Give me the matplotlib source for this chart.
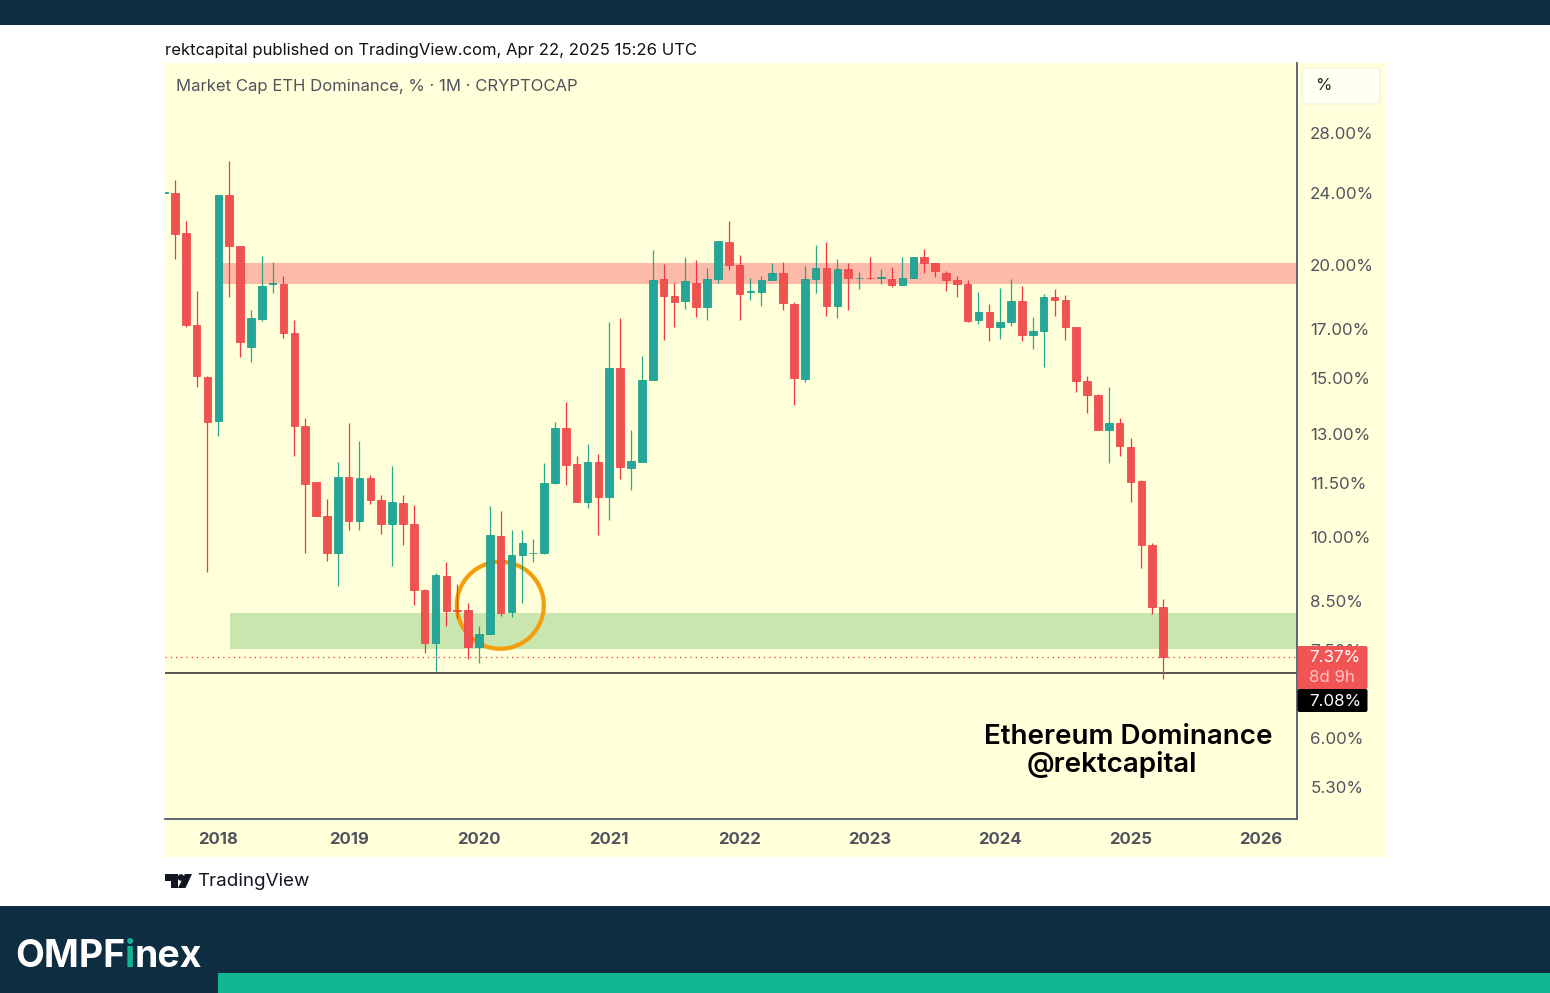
import numpy as np
import pandas as pd
import matplotlib
matplotlib.use("Agg")
import matplotlib.pyplot as plt
from matplotlib.patches import Rectangle, Circle, Polygon, FancyBboxPatch
from matplotlib.transforms import Affine2D

months = pd.period_range("2017-08", "2025-04", freq="M")
opens = [24.05,24.03,21.69,17.16,15.06,13.44,23.9,21.0,16.23,17.43,19.06,19.06,16.84,13.29,11.51,10.57,9.62,
         11.67,10.42,11.63,11.0,10.35,10.91,10.34,8.74,7.64,9.06,8.31,8.31,7.57,7.82,10.04,8.28,9.57,9.61,9.61,
         11.48,13.21,12.05,10.95,12.13,11.09,15.39,11.94,12.13,14.93,19.29,18.49,18.27,19.09,17.98,19.32,21.23,
         19.98,18.68,18.67,19.26,19.60,18.10,14.98,19.29,19.83,18.02,19.80,19.34,19.36,19.37,19.32,19.01,19.36,
         20.44,20.12,19.62,19.26,19.06,17.38,17.73,17.09,17.32,18.25,16.75,16.90,18.43,18.29,17.07,14.89,14.38,
         13.15,13.39,12.60,11.53,9.81,8.37]
highs = [24.1,24.81,22.36,18.70,15.08,23.9,26.04,21.0,17.82,20.49,20.14,19.43,17.37,13.55,11.51,11.04,12.12,
         13.38,12.78,11.73,11.15,11.98,11.14,10.87,8.76,9.14,9.40,8.89,8.47,7.99,10.84,10.69,10.19,10.19,9.97,12.09,
         13.42,14.13,12.29,12.67,12.38,17.32,17.49,13.16,15.88,20.78,20.05,19.09,20.40,20.24,19.85,21.27,22.39,
         20.52,19.34,19.46,20.10,20.14,18.19,19.95,21.05,21.20,20.31,20.10,19.63,20.43,19.78,19.91,20.44,20.44,
         20.82,20.12,19.69,19.44,19.26,18.66,18.12,18.85,19.31,18.94,17.51,18.57,18.83,18.52,17.07,15.08,14.41,
         14.65,13.56,12.89,11.56,9.85,8.54]
lows = [24.05,20.30,17.07,14.66,9.16,12.95,18.45,15.82,15.61,17.33,18.65,16.63,12.31,9.62,10.56,9.42,8.83,
        10.20,10.18,10.90,10.10,9.31,9.80,8.43,7.45,7.11,7.99,8.15,7.33,7.26,7.82,8.19,8.17,8.47,9.39,9.58,
        11.46,11.44,10.95,10.78,10.07,10.45,11.59,11.29,12.13,14.93,16.53,17.07,17.90,17.52,17.38,19.11,19.73,
        17.38,18.29,18.0,19.26,17.84,14.0,14.84,18.65,17.55,17.46,17.84,18.81,19.31,19.04,18.93,19.0,19.36,
        19.60,19.42,18.71,18.45,17.30,17.20,16.49,16.59,17.13,16.50,16.16,15.43,17.59,16.53,14.47,13.73,13.14,
        12.10,12.29,10.93,9.24,8.23,6.98]
closes = [24.1,21.66,17.16,15.10,13.43,23.9,20.97,16.44,17.46,18.97,19.10,16.84,13.29,11.45,10.56,9.62,11.67,
          10.42,11.63,10.99,10.35,10.93,10.35,8.74,7.64,9.08,8.30,8.30,7.57,7.82,10.06,8.26,9.57,9.85,9.62,11.49,
          13.21,12.03,10.95,12.13,11.09,15.39,11.97,12.15,14.93,19.26,18.49,18.22,19.19,17.98,19.32,21.27,20.02,
          18.60,18.70,19.26,19.60,18.15,14.99,19.29,19.83,18.02,19.80,19.34,19.36,19.33,19.40,19.03,19.36,20.44,
          20.12,19.70,19.26,19.05,17.36,17.73,17.09,17.32,18.27,16.75,16.90,18.43,18.29,17.07,14.90,14.36,13.14,
          13.39,12.61,11.52,9.82,8.37,7.37]
year_labels = ["2018","2019","2020","2021","2022","2023","2024","2025","2026"]
price_ticks = [28.0,24.0,20.0,17.0,15.0,13.0,11.5,10.0,8.5,7.5,6.0,5.3]
resistance_zone = (19.07, 20.10)
support_zone = (7.52, 8.25)
last_price = 7.37
support_line = 7.08

W, H = 1550, 993
fig = plt.figure(figsize=(W/100, H/100), dpi=100, facecolor="white")
PX = Affine2D().scale(1/W, -1/H).translate(0, 1) + fig.transFigure
plt.rcParams["font.family"] = ["Inter", "DejaVu Sans"]

NAVY = "#0F2D40"; BG = "#FFFFD9"; AXC = "#4F5B6E"; TXT = "#50535E"
UP = "#26A69A"; DOWN = "#EF5350"; UPW = "#089981"; DOWNW = "#F23645"

def rect(x0, y0, x1, y1, c, z=0, **kw):
    fig.add_artist(Rectangle((x0, y0), x1-x0, y1-y0, transform=PX, facecolor=c, edgecolor="none", zorder=z, **kw))
def txt(x, y, s, **kw):
    kw.setdefault("va", "center")
    return fig.text(x, y, s, transform=PX, **kw)

rect(0, 0, W, 25, NAVY)
rect(0, 906, W, H, NAVY)
rect(218, 973, W, H, "#10B593")
rect(165, 63, 1385, 857, BG, z=-1)

L, R, T, B = 165, 1297, 63, 819
ax = fig.add_axes([L/W, 1-B/H, (R-L)/W, (B-T)/H])
ax.patch.set_alpha(0)
ax.set_yscale("log")
ax.set_ylim(4.884, 33.45)
pxm = 10.86
ax.set_xlim((L-218.3)/pxm, (R-218.3)/pxm)
x = np.array([(m.year-2018)*12 + m.month-1 for m in months], float)
o, h, l, c = map(np.array, (opens, highs, lows, closes))
up = c >= o

ax.axhspan(*resistance_zone, xmin=(0.35-ax.get_xlim()[0])/(ax.get_xlim()[1]-ax.get_xlim()[0]), color="#FBBBA8", lw=0, zorder=1)
ax.axhspan(*support_zone, xmin=(1.08-ax.get_xlim()[0])/(ax.get_xlim()[1]-ax.get_xlim()[0]), color="#C8E6AE", lw=0, zorder=1)
ax.axhline(last_price, color=DOWNW, lw=0.9, ls=(0, (1, 3.2)), zorder=2)
ax.axhline(support_line, color="#474A4A", lw=1.3, zorder=2)
ax.add_patch(Circle((500.3, 605.3), 43.5, transform=PX, fill=False, edgecolor="#F59E0B", lw=3.0, zorder=3))

ax.vlines(x[up], l[up], h[up], color=UPW, lw=0.9, zorder=4, alpha=.85)
ax.vlines(x[~up], l[~up], h[~up], color=DOWNW, lw=0.9, zorder=4)
bw = 7.6/pxm
ax.bar(x[up], (c-o)[up], bottom=o[up], width=bw, color=UP, edgecolor=UPW, lw=0.5, zorder=5)
ax.bar(x[~up], (o-c)[~up], bottom=c[~up], width=bw, color=DOWN, edgecolor=DOWNW, lw=0.5, zorder=5)

for s in ("top", "left"):
    ax.spines[s].set_visible(False)
for s in ("right", "bottom"):
    ax.spines[s].set_color(AXC); ax.spines[s].set_linewidth(1.3)
ax.yaxis.tick_right()
ax.set_yticks(price_ticks)
ax.set_yticklabels([f"{p:.2f}%" for p in price_ticks], fontsize=12.2, color=TXT)
ax.minorticks_off()
ax.yaxis.set_minor_locator(matplotlib.ticker.NullLocator())
ax.tick_params(axis="y", length=0, pad=9.5)
ax.set_xticks(np.arange(len(year_labels))*12)
ax.set_xticklabels(year_labels, fontsize=12, color=TXT, fontweight="bold")
ax.tick_params(axis="x", length=0, pad=9)

# price labels over axis
fig.add_artist(FancyBboxPatch((1297.5, 646), 70, 43, boxstyle="round,pad=0,rounding_size=2", transform=PX, fc="#F15454", ec="none", zorder=6))
fig.add_artist(FancyBboxPatch((1297.5, 689), 70, 23, boxstyle="round,pad=0,rounding_size=2", transform=PX, fc="black", ec="none", zorder=6))
txt(1309, 657.5, "7.37%", fontsize=12.2, color="white", zorder=7)
txt(1309, 677, "8d 9h", fontsize=12.2, color="#FFC4C4", zorder=7)
txt(1309, 701, "7.08%", fontsize=12.2, color="white", zorder=7)

fig.add_artist(FancyBboxPatch((1302, 68), 78, 36, boxstyle="round,pad=0,rounding_size=4", transform=PX, fc="#FFFFF2", ec="#F2F2DC", lw=0.8, zorder=3))
txt(1315, 86, "%", fontsize=12, color="#222", zorder=4)

txt(165, 50, "rektcapital published on TradingView.com, Apr 22, 2025 15:26 UTC", fontsize=12, color="#111")
txt(176, 87, "Market Cap ETH Dominance, % · 1M · CRYPTOCAP", fontsize=12, color=TXT)
txt(984, 737, "Ethereum Dominance", fontsize=20, fontweight="semibold", color="black", zorder=8)
txt(1027, 765, "@rektcapital", fontsize=20, fontweight="semibold", color="black", zorder=8)

# TradingView mark
for poly in ([(165,874),(178,874),(178,888),(171,888),(171,881),(165,881)],
             [(185,874),(192,874),(185.5,888),(178,888)]):
    fig.add_artist(Polygon(poly, transform=PX, fc="#131722", ec="none"))
fig.add_artist(Circle((181, 877.5), 3.3, transform=PX, fc="#131722", ec="none"))
txt(197, 881, "TradingView", fontsize=13.5, color="#131722")

kw = dict(fontsize=27, fontweight="bold", zorder=5)
txt(15, 957, "OMPF", color="white", **kw)
txt(125, 957, "i", color="#10B593", **kw)
txt(135, 957, "nex", color="white", **kw)

fig.savefig("out.png", dpi=100)
